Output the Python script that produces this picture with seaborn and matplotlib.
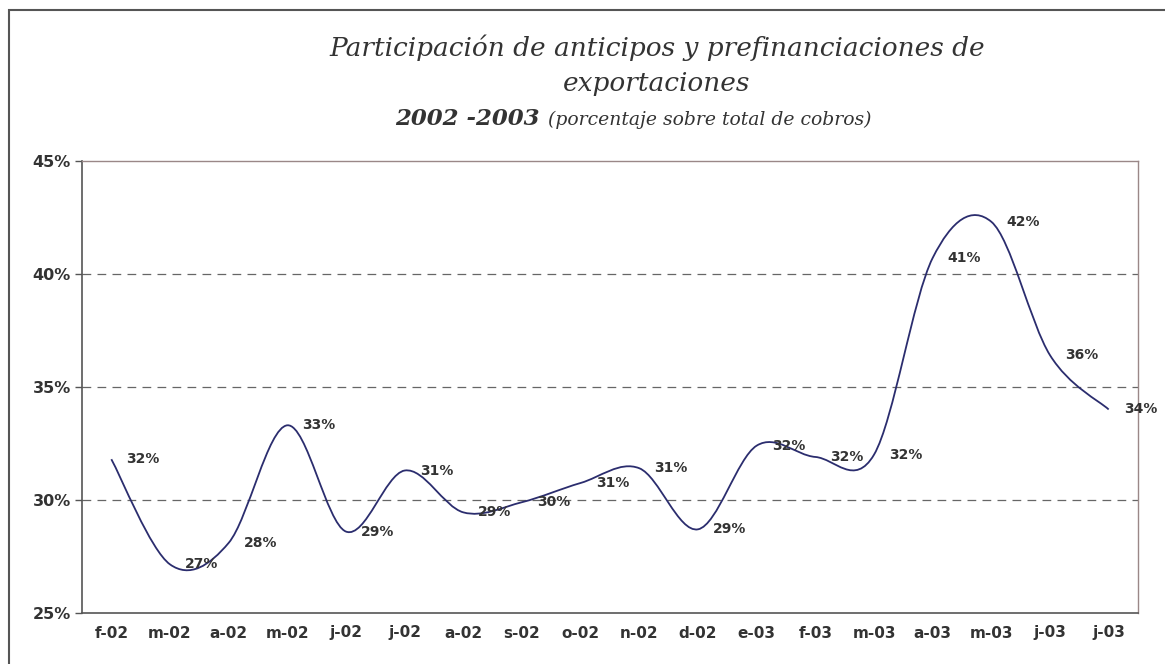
import numpy as np
import matplotlib
matplotlib.use("Agg")
import matplotlib.pyplot as plt
from matplotlib.path import Path
from matplotlib.patches import PathPatch, Rectangle
from matplotlib.ticker import FixedLocator, NullFormatter
import seaborn as sns

# data (percent of total collections)
months = ["f-02", "m-02", "a-02", "m-02", "j-02", "j-02", "a-02", "s-02", "o-02",
          "n-02", "d-02", "e-03", "f-03", "m-03", "a-03", "m-03", "j-03", "j-03"]
share = [31.8, 27.15, 28.1, 33.3, 28.6, 31.3, 29.45, 29.9, 30.75,
         31.4, 28.7, 32.4, 31.9, 32.0, 40.7, 42.3, 36.4, 34.0]
yticks = [25, 30, 35, 40, 45]

sns.set_theme(style="white")
plt.rcParams["font.family"] = ["DejaVu Sans"]

fig = plt.figure(figsize=(11.65, 6.64), dpi=100)
ax = fig.add_axes([82 / 1165, 1 - 613 / 664, (1138 - 82) / 1165, (613 - 160.7) / 664])

# smoothed line (Excel style bezier through the points)
x = np.arange(len(share), dtype=float)
y = np.array(share, dtype=float)
px = np.concatenate([[x[0]], x, [x[-1]]])
py = np.concatenate([[y[0]], y, [y[-1]]])
verts = [(x[0], y[0])]
codes = [Path.MOVETO]
for i in range(1, len(x)):
    p0, p1, p2, p3 = i - 1, i, i + 1, i + 2
    c1 = (px[p1] + (px[p2] - px[p0]) / 6, py[p1] + (py[p2] - py[p0]) / 6)
    c2 = (px[p2] - (px[p3] - px[p1]) / 6, py[p2] - (py[p3] - py[p1]) / 6)
    verts += [c1, c2, (px[p2], py[p2])]
    codes += [Path.CURVE4] * 3
ax.add_patch(PathPatch(Path(verts, codes), facecolor="none", edgecolor="#2b2d6e", lw=1.3, zorder=3))

# data labels
for xi, v in zip(x, share):
    ax.annotate(f"{round(v)}%", (xi, v), xytext=(15, 0), textcoords="offset pixels",
                ha="left", va="center", fontsize=10, fontweight="bold", color="#333333",
                annotation_clip=False, zorder=4)

ax.set_xlim(-0.5, len(months) - 0.5)
ax.set_ylim(25, 45)

for g in yticks[1:-1]:
    ax.axhline(g, color="#666666", lw=0.9, dashes=(7, 5), zorder=1)

ax.set_yticks(yticks)
ax.set_yticklabels([f"{t}%" for t in yticks], fontsize=11.5, fontweight="bold", color="#333333")
ax.xaxis.set_major_locator(FixedLocator(np.arange(-0.5, len(months), 1.0)))
ax.xaxis.set_major_formatter(NullFormatter())
ax.xaxis.set_minor_locator(FixedLocator(x))
ax.set_xticklabels(months, minor=True, fontsize=11, fontweight="bold", color="#333333")
ax.tick_params(axis="x", which="major", direction="out", length=5, width=1, color="#555555")
ax.tick_params(axis="x", which="minor", length=0, pad=9)
ax.tick_params(axis="y", direction="out", length=5, width=1, color="#555555", pad=3, left=True)

for side in ["left", "bottom"]:
    ax.spines[side].set_color("#555555")
    ax.spines[side].set_linewidth(1.2)
for side in ["top", "right"]:
    ax.spines[side].set_color("#9a8888")
    ax.spines[side].set_linewidth(1.0)
ax.grid(False)

# title
serif = ["DejaVu Serif"]
fig.text(657 / 1165, 1 - 48 / 664, "Participación de anticipos y prefinanciaciones de",
         ha="center", va="center", fontsize=19, style="italic", family=serif, color="#333333")
fig.text(657 / 1165, 1 - 84 / 664, "exportaciones",
         ha="center", va="center", fontsize=19, style="italic", family=serif, color="#333333")
fig.text(540 / 1165, 1 - 125 / 664, "2002 -2003", ha="right", va="baseline",
         fontsize=16.5, style="italic", fontweight="bold", family=serif, color="#333333")
fig.text(548 / 1165, 1 - 125 / 664, "(porcentaje sobre total de cobros)", ha="left", va="baseline",
         fontsize=13.5, style="italic", family=serif, color="#333333")

# outer frame
fig.patches.append(Rectangle((9 / 1165, -0.1), 1.2, 1 - 9.5 / 664 + 0.1, transform=fig.transFigure,
                             facecolor="none", edgecolor="#555555", lw=1.5))

fig.savefig("out.png", dpi=100)
